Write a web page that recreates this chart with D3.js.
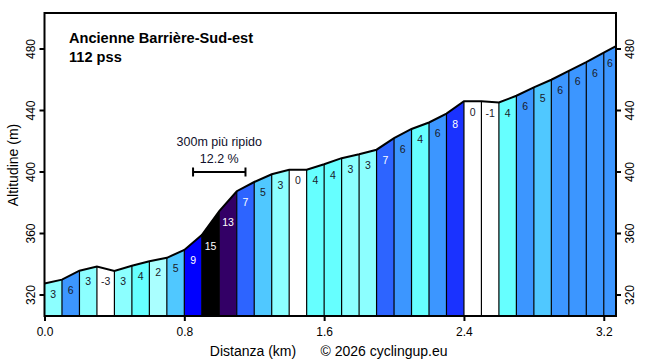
<!DOCTYPE html>
<html>
<head>
<meta charset="utf-8">
<script src="https://cdn.jsdelivr.net/npm/d3@7"></script>
<style>
  body { margin: 0; background: #fff; }
  svg { display: block; font-family: "Liberation Sans", Arial, sans-serif; }
</style>
</head>
<body>
<svg id="chart" width="656" height="362"></svg>
<script>
// profile data, one point every 100 m
let distances = [0, 0.1, 0.2, 0.3, 0.4, 0.5, 0.6, 0.7, 0.8, 0.9, 1.0, 1.1, 1.2, 1.3, 1.4, 1.5, 1.6,
  1.7, 1.8, 1.9, 2.0, 2.1, 2.2, 2.3, 2.4, 2.5, 2.6, 2.7, 2.8, 2.9, 3.0, 3.1, 3.2, 3.27];
let elevations = [327.5, 330, 335.8, 338.5, 335.7, 339, 342, 344.2, 349.3, 359, 374.5, 387.5, 393.5, 398.5,
  401.5, 401.5, 405, 409, 411.5, 414.5, 422, 428, 432.2, 438, 446, 446, 445.2, 449.6, 455, 460,
  465.8, 471.5, 477.6, 481.8];
let grades = [3, 6, 3, -3, 3, 4, 2, 5, 9, 15, 13, 7, 5, 3, 0, 4, 4, 3, 3, 7, 6, 4, 6, 8, 0, -1, 4, 6, 5, 6, 6, 6, 6];

let xTicks = [0, 0.8, 1.6, 2.4, 3.2];
let yTicks = [320, 360, 400, 440, 480];

let title = "Ancienne Barrière-Sud-est";
let subtitle = "112 pss";
let steepLabel = "300m più ripido";
let steepValue = "12.2 %";
let steepFrom = 0.85;
let steepTo = 1.15;
let steepAt = 400;

let plotLeft = 44.5, plotRight = 616, plotTop = 13, plotBottom = 316;

let svg = d3.select("#chart");

let x = d3.scaleLinear().domain([0, 3.27]).range([plotLeft, plotRight]);
let y = d3.scaleLinear().domain([320, 480]).range([295, 49]);

// colour by gradient
function gradeColor(g) {
  if (g <= 1) return "#ffffff";
  if (g <= 2) return "#aaffff";
  if (g <= 3) return "#8cffff";
  if (g <= 4) return "#66ffff";
  if (g <= 5) return "#50c8ff";
  if (g <= 6) return "#3c96ff";
  if (g <= 7) return "#2d64ff";
  if (g <= 8) return "#1a32ff";
  if (g <= 9) return "#0000ff";
  if (g <= 11) return "#0000aa";
  if (g <= 13) return "#330066";
  return "#000000";
}

let segs = grades.map(function(g, i) {
  return { g: g, x0: distances[i], x1: distances[i + 1], e0: elevations[i], e1: elevations[i + 1] };
});

// bars (trapezoids under the profile)
svg.append("g")
  .selectAll("path")
  .data(segs)
  .enter().append("path")
  .attr("d", function(d) {
    return "M" + x(d.x0) + "," + plotBottom + "L" + x(d.x0) + "," + y(d.e0) +
      "L" + x(d.x1) + "," + y(d.e1) + "L" + x(d.x1) + "," + plotBottom + "Z";
  })
  .attr("fill", function(d) { return gradeColor(d.g); })
  .attr("stroke", "none");

// separators
svg.append("g")
  .selectAll("line")
  .data(distances.slice(1, -1))
  .enter().append("line")
  .attr("x1", function(d) { return x(d); })
  .attr("x2", function(d) { return x(d); })
  .attr("y1", plotBottom)
  .attr("y2", function(d, i) { return y(elevations[i + 1]); })
  .attr("stroke", "#000")
  .attr("stroke-width", 1.2);

// profile line
svg.append("path")
  .datum(distances.map(function(d, i) { return [d, elevations[i]]; }))
  .attr("d", d3.line().x(function(d) { return x(d[0]); }).y(function(d) { return y(d[1]); }))
  .attr("fill", "none")
  .attr("stroke", "#000")
  .attr("stroke-width", 2);

// gradient labels
svg.append("g")
  .selectAll("text")
  .data(segs)
  .enter().append("text")
  .attr("x", function(d) { return (x(d.x0) + x(d.x1)) / 2; })
  .attr("y", function(d) { return y(Math.min(d.e0, d.e1)) + 14.5; })
  .attr("text-anchor", "middle")
  .attr("font-size", "10.5px")
  .attr("fill", function(d) { return d.g >= 7 ? "#ffffff" : "#1a1a2a"; })
  .text(function(d) { return d.g; });

// frame
svg.append("rect")
  .attr("x", plotLeft)
  .attr("y", plotTop)
  .attr("width", plotRight - plotLeft)
  .attr("height", plotBottom - plotTop)
  .attr("fill", "none")
  .attr("stroke", "#000")
  .attr("stroke-width", 2);

// x axis
let xAxis = svg.append("g")
  .attr("transform", "translate(0," + plotBottom + ")")
  .call(d3.axisBottom(x).tickValues(xTicks).tickSize(5).tickSizeOuter(0).tickPadding(6)
    .tickFormat(d3.format(".1f")));
xAxis.select(".domain").remove();
xAxis.selectAll("line").attr("stroke-width", 2);
xAxis.selectAll("text").attr("font-size", "12px").attr("fill", "#000")
  .attr("font-family", "Liberation Sans, Arial, sans-serif");

// y axes, labels rotated
function yAxis(side) {
  let g = svg.append("g");
  let tx = side === "left" ? plotLeft : plotRight;
  let dir = side === "left" ? -1 : 1;
  g.selectAll("line")
    .data(yTicks)
    .enter().append("line")
    .attr("x1", tx)
    .attr("x2", tx + dir * 5)
    .attr("y1", function(d) { return y(d); })
    .attr("y2", function(d) { return y(d); })
    .attr("stroke", "#000")
    .attr("stroke-width", 2);
  g.selectAll("text")
    .data(yTicks)
    .enter().append("text")
    .attr("transform", function(d) {
      return "translate(" + (tx + dir * 14) + "," + y(d) + ") rotate(-90)";
    })
    .attr("text-anchor", "middle")
    .attr("dy", "0.35em")
    .attr("font-size", "12px")
    .text(function(d) { return d; });
}
yAxis("left");
yAxis("right");

// axis titles
svg.append("text")
  .attr("transform", "translate(18,165) rotate(-90)")
  .attr("text-anchor", "middle")
  .attr("font-size", "14px")
  .text("Altitudine (m)");

svg.append("text")
  .attr("x", 253)
  .attr("y", 356)
  .attr("text-anchor", "middle")
  .attr("font-size", "14px")
  .text("Distanza (km)");

svg.append("text")
  .attr("x", 384)
  .attr("y", 356)
  .attr("text-anchor", "middle")
  .attr("font-size", "14px")
  .text("© 2026 cyclingup.eu");

// title
svg.append("text")
  .attr("x", 69)
  .attr("y", 43)
  .attr("font-size", "14.6px")
  .attr("font-weight", "bold")
  .text(title);

svg.append("text")
  .attr("x", 69)
  .attr("y", 62)
  .attr("font-size", "14.6px")
  .attr("font-weight", "bold")
  .text(subtitle);

// steepest 300 m marker
let sy = y(steepAt);
let steep = svg.append("g");
steep.append("line")
  .attr("x1", x(steepFrom)).attr("x2", x(steepTo))
  .attr("y1", sy).attr("y2", sy)
  .attr("stroke", "#000").attr("stroke-width", 2);
steep.selectAll(".cap")
  .data([steepFrom, steepTo])
  .enter().append("line")
  .attr("x1", function(d) { return x(d); })
  .attr("x2", function(d) { return x(d); })
  .attr("y1", sy - 4.5)
  .attr("y2", sy + 4.5)
  .attr("stroke", "#000").attr("stroke-width", 2);
steep.append("text")
  .attr("x", (x(steepFrom) + x(steepTo)) / 2)
  .attr("y", sy - 26)
  .attr("text-anchor", "middle")
  .attr("font-size", "12.5px")
  .attr("fill", "#10102a")
  .text(steepLabel);
steep.append("text")
  .attr("x", (x(steepFrom) + x(steepTo)) / 2)
  .attr("y", sy - 9)
  .attr("text-anchor", "middle")
  .attr("font-size", "12.5px")
  .attr("fill", "#10102a")
  .text(steepValue);
</script>
</body>
</html>
